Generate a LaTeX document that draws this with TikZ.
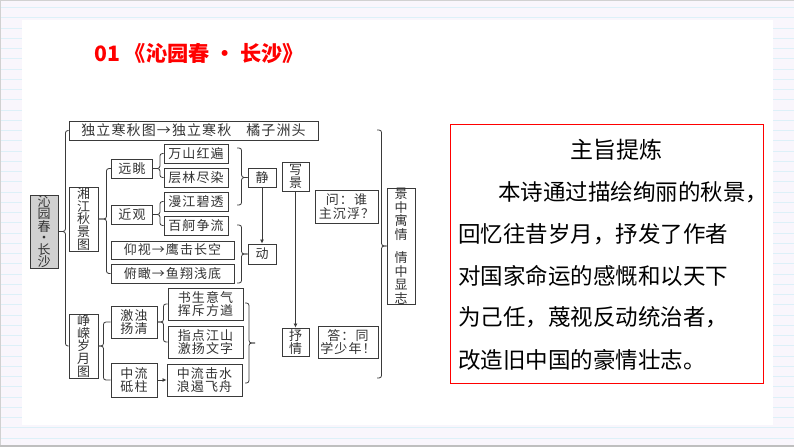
\documentclass[tikz,border=0pt]{standalone}
\usepackage{fontspec}
\setmainfont{Noto Sans CJK SC}
\usetikzlibrary{calc, arrows.meta, positioning}
\definecolor{paperbg}{HTML}{F9F6FC}
\definecolor{paperline}{HTML}{DDF0F8}
\definecolor{edgeline}{HTML}{3A3A3A}
\definecolor{titlered}{HTML}{FF0000}
\newcommand{\qcomma}{\symbol{"FF0C}}
\newcommand{\qcolon}{\symbol{"FF1A}}
\newcommand{\qask}{\symbol{"FF1F}}
\newcommand{\qbang}{\symbol{"FF01}}
\tikzset{
    nbox/.style={draw=edgeline, line width=0.9pt, fill=white, inner sep=0pt, align=center,
        font=\fontsize{13}{13.5}\selectfont\addfontfeature{LetterSpace=8}, text=black!80},
    rootbox/.style={fill=black!18, font=\fontsize{13}{11.8}\selectfont},
    colbox/.style={font=\fontsize{13}{12.6}\selectfont},
    widebox/.style={font=\fontsize{14}{15}\selectfont\addfontfeature{LetterSpace=8}},
    brace/.style={draw=edgeline, line width=0.8pt, rounded corners=2.5pt},
    link/.style={draw=edgeline, line width=0.8pt, -{Latex[length=4pt,width=4pt]}},
    bodytext/.style={anchor=west, inner sep=0pt, font=\fontsize{22.5}{24}\selectfont, text=black}
}
\newcommand{\drawN}[7][]{
    \node[nbox, #1, minimum width=#4pt, minimum height=#5pt] (#6) at (#2,#3) {#7};
}
\newcommand{\drawB}[4]{
    \draw[brace] (#3) -| ($(#2)+(#1,0)$) -- (#2);
    \draw[brace] (#4) -| ($(#2)+(#1,0)$) -- (#2);
}
\begin{document}
\begin{tikzpicture}[x=1pt, y=-1pt]
    \useasboundingbox (0,0) rectangle (794,447);
    % Paper
        \fill[paperbg] (0,0) rectangle (794,447);
        \foreach \i in {0,...,42}{
            \draw[paperline, line width=1pt] (0,7.5+10.25*\i) -- (794,7.5+10.25*\i);
        }
        \fill[white] (22,20) rectangle (773,425);
        \fill[black!18] (0,0) rectangle (794,1.2);
        \fill[black!18] (0,0) rectangle (1.2,447);
        \fill[black!25] (0,445) rectangle (794,447);

    % Title
        \node[anchor=west, inner sep=0pt, text=titlered, font=\fontsize{21.2}{24}\selectfont\bfseries] (title) at (94,54) {01 《沁园春 · 长沙》};

    % Left column
        \drawN[rootbox]{44}{231.5}{28}{73}{root}{沁\\园\\春\\·\\长\\沙}
        \drawN[widebox]{193.5}{130.5}{249}{19}{dulitop}{独立寒秋图→独立寒秋\hspace{15pt}橘子洲头}
        \drawN[colbox]{83.5}{219}{29}{64}{xiang}{湘\\江\\秋\\景\\图}
        \drawN[colbox]{83.5}{346}{29}{64}{zheng}{峥\\嵘\\岁\\月\\图}

    % Upper tree
        \drawN{132}{168.5}{41}{19}{yuantiao}{远眺}
        \drawN{132}{214.5}{41}{19}{jinguan}{近观}
        \drawN{196}{153.5}{64}{19}{wanshan}{万山红遍}
        \drawN{196}{177.5}{64}{19}{cenglin}{层林尽染}
        \drawN{196}{201.5}{64}{19}{manjiang}{漫江碧透}
        \drawN{196}{225.5}{64}{19}{baige}{百舸争流}
        \drawN{172.5}{250}{123}{18}{yangshi}{仰视→鹰击长空}
        \drawN{172.5}{273.5}{123}{19}{fukan}{俯瞰→鱼翔浅底}
        \drawN{262}{177.5}{28}{19}{jing}{静}
        \drawN{262}{254}{28}{20}{dong}{动}

    % Lower tree
        \drawN{134}{322}{46}{32}{jizhuo}{激浊\\扬清}
        \drawN{134}{380}{46}{34}{zhongliu}{中流\\砥柱}
        \drawN{205.5}{304}{75}{32}{shusheng}{书生意气\\挥斥方遒}
        \drawN{205.5}{342}{75}{32}{zhidian}{指点江山\\激扬文字}
        \drawN{204.5}{380}{75}{32}{jishui}{中流击水\\浪遏飞舟}

    % Right column
        \drawN{295.5}{176.5}{27}{29}{xie}{写\\景}
        \drawN{295.5}{342}{27}{28}{shu}{抒\\情}
        \drawN{346.5}{206.5}{63}{33}{wen}{问\qcolon 谁\\主沉浮\qask}
        \drawN{348}{342}{60}{32}{da}{答\qcolon 同\\学少年\qbang}
        \drawN{401}{246}{28}{116}{jingzhong}{景\\中\\寓\\情\\[10pt]情\\中\\显\\志}

    % Free ends of the braces
        \coordinate (wanTop) at (237,148);
        \coordinate (manBot) at (237,205);
        \coordinate (baiTop) at (237,225);
        \coordinate (fuBot) at (237,283);
        \coordinate (shuTop) at (245,303);
        \coordinate (jiBot) at (245,383);
        \coordinate (shuTip) at (255,343);
        \coordinate (bigTop) at (377,130);
        \coordinate (bigBot) at (377,378);

    % Braces
        \drawB{7}{root.east}{dulitop.west}{zheng.west}
        \drawB{8}{xiang.east}{yuantiao.west}{fukan.west}
        \drawB{5}{zheng.east}{jizhuo.west}{zhongliu.west}
        \drawB{7}{yuantiao.east}{wanshan.west}{cenglin.west}
        \drawB{7}{jinguan.east}{manjiang.west}{baige.west}
        \drawB{6}{jizhuo.east}{shusheng.west}{zhidian.west}
        \drawB{-6}{jing.west}{wanTop}{manBot}
        \drawB{-6}{dong.west}{baiTop}{fuBot}
        \drawB{-6}{shuTip}{shuTop}{jiBot}
        \drawB{-5}{jingzhong.west}{bigTop}{bigBot}

    % Arrows
        \draw[link] (jing) -- (dong);
        \draw[link] (xie) -- (shu);
        \draw[link] (zhongliu) -- (jishui);

    % Text panel
        \node[draw=titlered, line width=1pt, fill=white, minimum width=313pt, minimum height=259pt, inner sep=0pt] (panel) at (606.5,253.5) {};
        \node[inner sep=0pt, font=\fontsize{23}{26}\selectfont, text=black] (heading) at (616,150) {主旨提炼};
        \foreach \i/\x/\y/\t in {1/498/192/{本诗通过描绘绚丽的秋景\qcomma},
                                 2/458/234/{回忆往昔岁月\qcomma 抒发了作者},
                                 3/458/276/{对国家命运的感慨和以天下},
                                 4/458/317/{为己任\qcomma 蔑视反动统治者\qcomma},
                                 5/458/360/{改造旧中国的豪情壮志。}}{
            \node[bodytext] (line\i) at (\x,\y) {\t};
        }
\end{tikzpicture}
\end{document}
